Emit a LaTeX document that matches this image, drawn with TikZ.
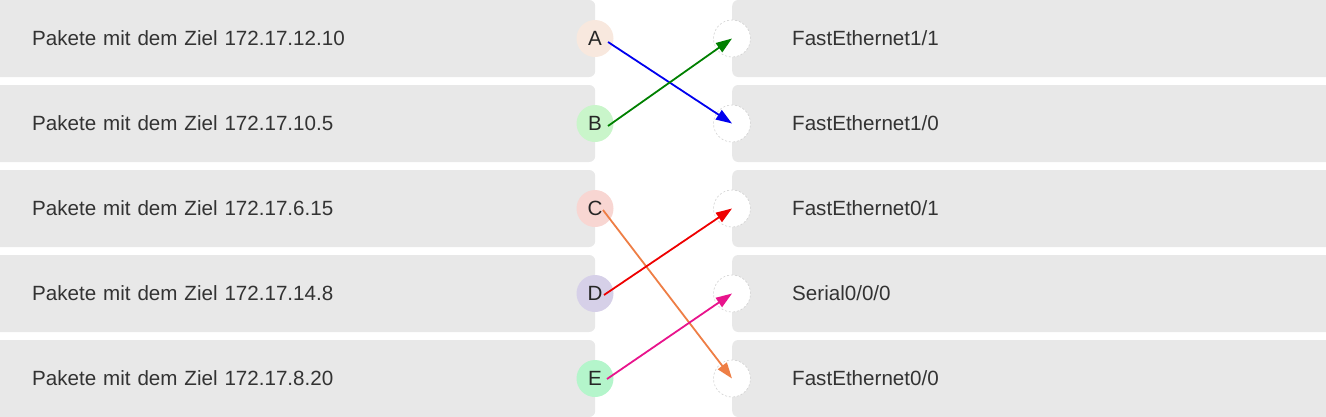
\documentclass[tikz,border=0pt]{standalone}
\usepackage{fontspec}
\setmainfont{Liberation Sans}
\usetikzlibrary{arrows.meta}

\definecolor{boxgray}{HTML}{E8E8E8}
\definecolor{txtgray}{HTML}{333333}
\definecolor{fillA}{HTML}{F8E8DE}
\definecolor{fillB}{HTML}{C9F5CA}
\definecolor{fillC}{HTML}{F8D6D2}
\definecolor{fillD}{HTML}{D6D0E8}
\definecolor{fillE}{HTML}{B4F5CB}
\definecolor{arrblue}{HTML}{0000EE}
\definecolor{arrgreen}{HTML}{008000}
\definecolor{arrred}{HTML}{EE0000}
\definecolor{arrorange}{HTML}{EE7E45}
\definecolor{arrpink}{HTML}{E8148C}

\begin{document}
\begin{tikzpicture}[x=1pt,y=-1pt,>={Triangle[length=16pt,width=11pt]},
    lbox/.style={fill=boxgray,rounded corners=6pt,anchor=west,minimum height=77pt,
      text width=521pt,inner xsep=42pt,align=left,text=txtgray,font=\fontsize{20.6}{24}\selectfont},
    rbox/.style={lbox,text width=488pt,inner xsep=60pt},
    lt/.style={circle,minimum size=37pt,inner sep=0pt,text=black!85,font=\fontsize{20.6}{24}\selectfont},
    rt/.style={circle,draw=black!18,dash pattern=on 2pt off 2pt,line width=0.6pt,fill=white,minimum size=37pt,inner sep=0pt},
    arr/.style={->,line width=1.8pt}]
  \useasboundingbox (0,0) rectangle (1326,416);
  \node[lbox] (l1) at (-10,38.5) {Pakete mit dem Ziel 172.17.12.10};
  \node[lbox] (l2) at (-10,123.5) {Pakete mit dem Ziel 172.17.10.5};
  \node[lbox] (l3) at (-10,208.5) {Pakete mit dem Ziel 172.17.6.15};
  \node[lbox] (l4) at (-10,293.5) {Pakete mit dem Ziel 172.17.14.8};
  \node[lbox] (l5) at (-10,378.5) {Pakete mit dem Ziel 172.17.8.20};
  \node[rbox] (r1) at (732,38.5) {FastEthernet1/1};
  \node[rbox] (r2) at (732,123.5) {FastEthernet1/0};
  \node[rbox] (r3) at (732,208.5) {FastEthernet0/1};
  \node[rbox] (r4) at (732,293.5) {Serial0/0/0};
  \node[rbox] (r5) at (732,378.5) {FastEthernet0/0};
  \node[lt,fill=fillA] (pA) at (595,38.5) {A};
  \node[lt,fill=fillB] (pB) at (595,123.5) {B};
  \node[lt,fill=fillC] (pC) at (595,208.5) {C};
  \node[lt,fill=fillD] (pD) at (595,293.5) {D};
  \node[lt,fill=fillE] (pE) at (595,378.5) {E};
  \node[rt] (q1) at (732,38.5) {};
  \node[rt] (q2) at (732,123.5) {};
  \node[rt] (q3) at (732,208.5) {};
  \node[rt] (q4) at (732,293.5) {};
  \node[rt] (q5) at (732,378.5) {};
  \draw[arr,arrblue] ([shift={(13,3.5)}]pA.center) -- (q2.center);
  \draw[arr,arrgreen] ([shift={(13,2.5)}]pB.center) -- (q1.center);
  \draw[arr,arrorange] ([shift={(8,1.5)}]pC.center) -- (q5.center);
  \draw[arr,arrred] ([shift={(9,1.5)}]pD.center) -- (q3.center);
  \draw[arr,arrpink] ([shift={(12,0.5)}]pE.center) -- (q4.center);
\end{tikzpicture}
\end{document}
